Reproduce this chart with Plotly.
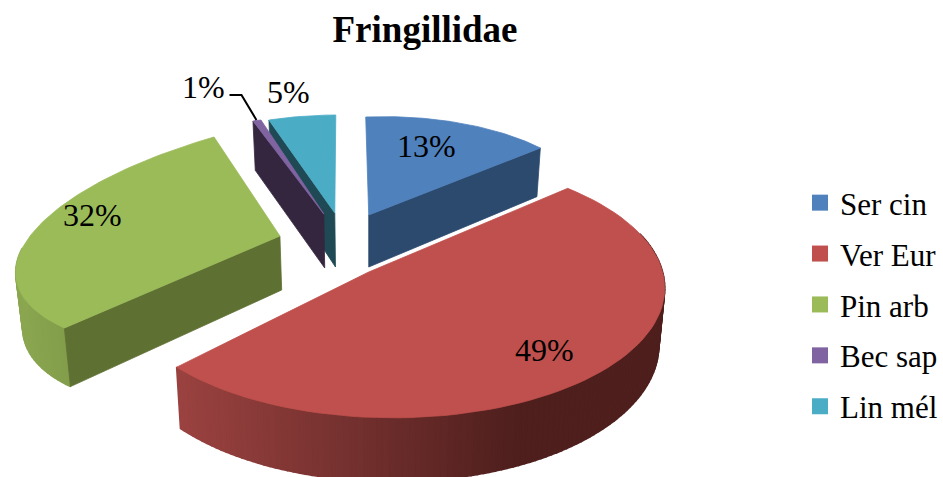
import numpy as np
import plotly.graph_objects as go

categories = ["Ser cin", "Ver Eur", "Pin arb", "Bec sap", "Lin mél"]
shares = [13, 49, 32, 1, 5]
share_labels = ["13%", "49%", "32%", "1%", "5%"]
title_text = "Fringillidae"

top_colors = ["#4F81BD", "#C0504D", "#9BBB59", "#8064A2", "#4BACC6"]
cut_colors = ["#2C4A6E", "#6E2E2C", "#5F7033", "#35263F", "#1F4A55"]
SERIF = "Liberation Serif"

# Perspective anchors of each exploded slice: apex plus screen position of two rim
# ends, plus an optional rim anchor as (angle in degrees, x, y).
anchors = {
    0: dict(apex=(369.5, 215), a=(366.5, 117), b=(541.5, 148), rim=(23.4, 460.5, 123), d=52),
    1: dict(apex=(369.5, 272), a=(569.5, 188), b=(177.5, 367), rim=None, d=56.5),
    2: dict(apex=(280.5, 236), a=(64.5, 328), b=(214.5, 137), rim=(270, 18.5, 257), d=54),
    3: dict(apex=(324.5, 214), a=(253.5, 121), b=(261.5, 120), rim=None, d=54),
    4: dict(apex=(335.5, 213), a=(269.5, 120), b=(336.5, 115), rim=None, d=54),
}
# Outline of the large slice's rim, used to fit its ellipse
big_rim = [(569.5, 188), (611.5, 210), (651.5, 250), (666.5, 293), (651.5, 333), (611.5, 367), (578.5, 383),
           (494.5, 407), (401.5, 418), (351.5, 417), (261.5, 402), (201.5, 380), (177.5, 367)]


def solve_h(src, dst):
    if len(src) == 3:
        A = np.array([[s[0], s[1], 1] for s in src], float)
        cx = np.linalg.solve(A, [d[0] for d in dst])
        cy = np.linalg.solve(A, [d[1] for d in dst])
        return np.vstack([cx, cy, [0, 0, 1]])
    M, v = [], []
    for (x, y), (u, w) in zip(src, dst):
        M.append([x, y, 1, 0, 0, 0, -u * x, -u * y]); v.append(u)
        M.append([0, 0, 0, x, y, 1, -w * x, -w * y]); v.append(w)
    p = np.linalg.solve(np.array(M, float), np.array(v, float))
    return np.append(p, 1).reshape(3, 3)


def unit(t):
    r = np.radians(t)
    return (np.sin(r), np.cos(r))


def proj(H, pts):
    pts = np.atleast_2d(pts)
    q = H @ np.c_[pts, np.ones(len(pts))].T
    return (q[0] / q[2]), (q[1] / q[2])


edges = np.cumsum([0] + shares) * 3.6
H, apex = {}, {}
for i, c in anchors.items():
    apex[i] = tuple(float(v) for v in c["apex"])
    if i == 1:
        continue
    t0, t1 = edges[i], edges[i + 1]
    src, dst = [unit(t0), unit(t1), (0, 0)], [c["a"], c["b"], c["apex"]]
    if c["rim"]:
        t, x, y = c["rim"]
        src.append(unit(t)); dst.append((x, y))
    H[i] = solve_h(src, dst)

# Ellipse fit for the large slice
P = np.array(big_rim, float) - (400, 300)
coef = np.linalg.lstsq(np.c_[P[:, 0] ** 2, P[:, 0] * P[:, 1], P[:, 1] ** 2, P[:, 0], P[:, 1]],
                       np.ones(len(P)), rcond=None)[0]
Q = np.array([[coef[0], coef[1] / 2], [coef[1] / 2, coef[2]]])
c0 = np.linalg.solve(2 * Q, -coef[3:5])
L = np.linalg.cholesky(np.linalg.inv(Q / (1 + c0 @ Q @ c0)))


def phi_of(p):
    u = np.linalg.solve(L, np.array(p, float) - (400, 300) - c0)
    return np.arctan2(u[1], u[0])


phi_a, phi_m, phi_b = phi_of(anchors[1]["a"]), phi_of((666.5, 293)), phi_of(anchors[1]["b"])
phi_m = phi_a + (phi_m - phi_a) % (2 * np.pi)
phi_b = phi_a + (phi_b - phi_a) % (2 * np.pi)
if phi_m > phi_b:
    phi_m -= 2 * np.pi; phi_b -= 2 * np.pi


def rim_xy(i, th):
    th = np.atleast_1d(th).astype(float)
    if i == 1:
        f = (th - edges[1]) / (edges[2] - edges[1])
        phi = phi_a + f * (phi_b - phi_a)
        q = (L @ np.vstack([np.cos(phi), np.sin(phi)])).T + c0 + (400, 300)
        return q[:, 0], q[:, 1]
    return proj(H[i], np.c_[np.sin(np.radians(th)), np.cos(np.radians(th))])


def drop(i, x, y):
    x, y = np.asarray(x, float), np.asarray(y, float)
    return x - 0.02 * (x - 369.5), y + anchors[i]["d"] + 0.05 * (y - apex[i][1])


fig = go.Figure()


def poly(x, y, color, name=None, lw=0.8):
    fig.add_trace(go.Scatter(x=list(x), y=list(y), mode="lines", fill="toself", fillcolor=color,
                             line=dict(color=color, width=lw), hoverinfo="skip" if name is None else "text",
                             text=name, showlegend=False))


def top_face(i):
    x, y = rim_xy(i, np.linspace(edges[i], edges[i + 1], 80))
    poly(np.r_[apex[i][0], x, apex[i][0]], np.r_[apex[i][1], y, apex[i][1]], top_colors[i],
         f"{categories[i]}: {share_labels[i]}")


def cut_face(i, edge_t):
    x, y = rim_xy(i, edge_t)
    px = np.array([apex[i][0], x[0]]); py = np.array([apex[i][1], y[0]])
    bx, by = drop(i, px, py)
    poly(np.r_[px, bx[::-1], px[0]], np.r_[py, by[::-1], py[0]], cut_colors[i])


def mix(c0, c1, f):
    f = float(np.clip(f, 0, 1))
    return "rgb(%d,%d,%d)" % tuple(round(a + (b - a) * f) for a, b in zip(c0, c1))


def outer_wall(i, t_from, t_to, n, color_at):
    x, y = rim_xy(i, np.linspace(t_from, t_to, n + 1))
    bx, by = drop(i, x, y)
    for k in range(n):
        poly([x[k], x[k + 1], bx[k + 1], bx[k], x[k]], [y[k], y[k + 1], by[k + 1], by[k], y[k]],
             color_at((x[k] + x[k + 1]) / 2), lw=1.6)


# Back to front
for i in (4, 3):
    cut_face(i, edges[i])
    top_face(i)

cut_face(0, edges[1])
top_face(0)

outer_wall(2, edges[2], 275, 30, lambda px: mix((127, 155, 73), (139, 166, 80), (80 - px) / 60))
cut_face(2, edges[2])
top_face(2)

outer_wall(1, 70, edges[2], 120, lambda px: mix((154, 66, 64), (78, 31, 29), (px - 180) / 340))
top_face(1)

for i, name in enumerate(categories):
    fig.add_trace(go.Scatter(x=[None], y=[None], mode="markers", name=name, legendgroup=name,
                             marker=dict(symbol="square", size=17, color=top_colors[i]), hoverinfo="skip"))

label_xy = [(427, 146), (546, 350), (93, 215), (204, 87), (289, 92)]
annotations = [dict(x=x, y=y, text=t, showarrow=False, xanchor="center", yanchor="middle",
                    font=dict(family=SERIF, size=32, color="black"))
               for (x, y), t in zip(label_xy, share_labels)]

fig.update_layout(
    width=943, height=477, margin=dict(l=0, r=0, t=0, b=0),
    paper_bgcolor="white", plot_bgcolor="white",
    title=dict(text=f"<b>{title_text}</b>", x=425 / 943, xanchor="center", y=1 - 29 / 477, yanchor="middle",
               font=dict(family=SERIF, size=37, color="black")),
    xaxis=dict(range=[0, 943], visible=False, fixedrange=True),
    yaxis=dict(range=[477, 0], visible=False, fixedrange=True),
    legend=dict(x=802 / 943, y=1 - 176 / 477, xanchor="left", yanchor="top", bgcolor="rgba(0,0,0,0)",
                font=dict(family=SERIF, size=31, color="black"), tracegroupgap=7.6, itemclick=False,
                itemdoubleclick=False),
    annotations=annotations,
    shapes=[dict(type="path", path="M 230 95 L 242 95 L 257 120", line=dict(color="black", width=2),
                 xref="x", yref="y")],
)
fig.write_html("out.html", post_script="document.body.style.margin='0';", config={"displayModeBar": False})
